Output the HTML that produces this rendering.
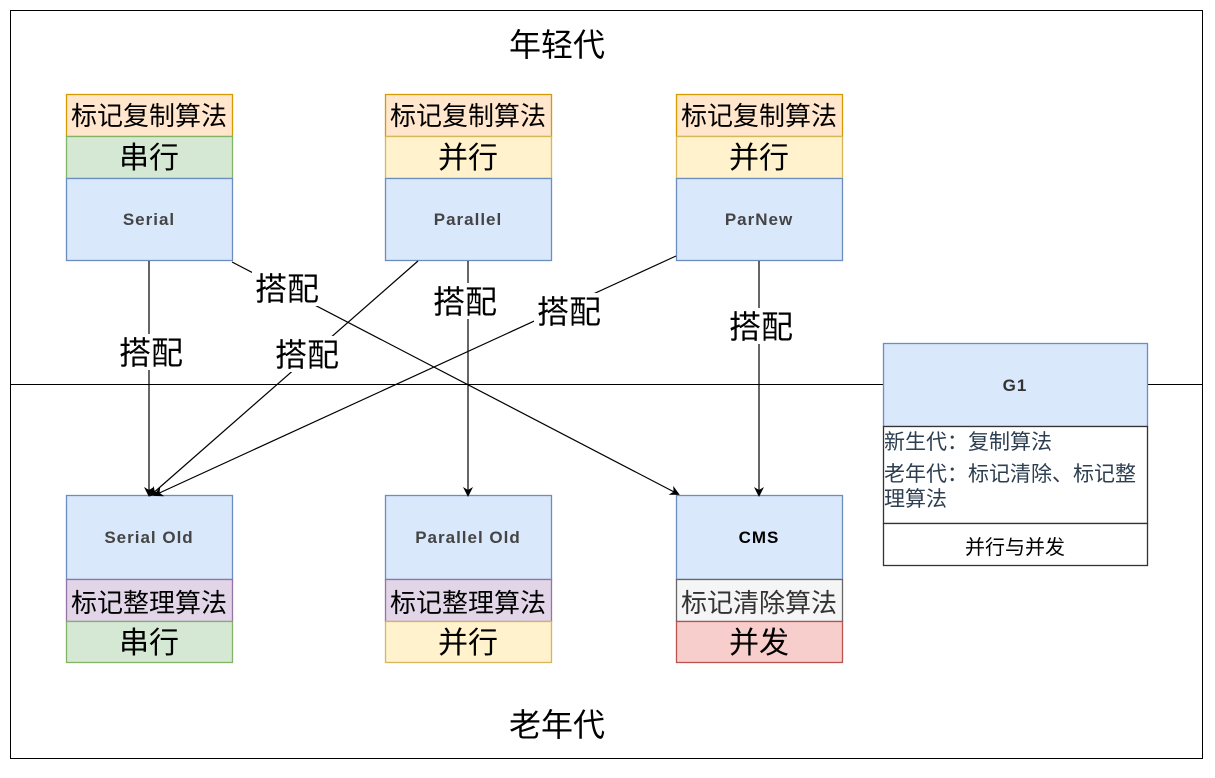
<!DOCTYPE html>
<html><head><meta charset="utf-8"><style>
html,body{margin:0;padding:0;background:#fff;}
svg text{font-family:"Liberation Sans","Noto Sans CJK SC",sans-serif;}
</style></head><body>
<svg width="1215" height="773" viewBox="0 0 1215 773" xmlns="http://www.w3.org/2000/svg">
<defs><marker id="a" markerWidth="10" markerHeight="10" refX="8" refY="5" orient="auto" markerUnits="userSpaceOnUse"><path d="M0,0 L10,5 L0,10 L3,5 z" fill="#000"/></marker></defs>
<rect x="10.5" y="10.5" width="1192" height="748" fill="#fff" stroke="#000"/>
<line x1="10" y1="384.5" x2="1202" y2="384.5" stroke="#000"/>
<text x="557" y="56" font-size="32" text-anchor="middle">年轻代</text>
<text x="557" y="736" font-size="32" text-anchor="middle">老年代</text>

<g stroke-width="1.3">
<rect x="66.5" y="94.5" width="166" height="42" fill="#ffe6cc" stroke="#d79b00"/>
<rect x="66.5" y="136.5" width="166" height="42" fill="#d5e8d4" stroke="#82b366"/>
<rect x="66.5" y="178.5" width="166" height="82" fill="#dae8fc" stroke="#6c8ebf"/>
<rect x="385.5" y="94.5" width="166" height="42" fill="#ffe6cc" stroke="#d79b00"/>
<rect x="385.5" y="136.5" width="166" height="42" fill="#fff2cc" stroke="#d6b656"/>
<rect x="385.5" y="178.5" width="166" height="82" fill="#dae8fc" stroke="#6c8ebf"/>
<rect x="676.5" y="94.5" width="166" height="42" fill="#ffe6cc" stroke="#d79b00"/>
<rect x="676.5" y="136.5" width="166" height="42" fill="#fff2cc" stroke="#d6b656"/>
<rect x="676.5" y="178.5" width="166" height="82" fill="#dae8fc" stroke="#6c8ebf"/>
<rect x="66.5" y="495.5" width="166" height="84" fill="#dae8fc" stroke="#6c8ebf"/>
<rect x="66.5" y="579.5" width="166" height="42" fill="#e1d5e7" stroke="#9673a6"/>
<rect x="66.5" y="621.5" width="166" height="41" fill="#d5e8d4" stroke="#82b366"/>
<rect x="385.5" y="495.5" width="166" height="84" fill="#dae8fc" stroke="#6c8ebf"/>
<rect x="385.5" y="579.5" width="166" height="42" fill="#e1d5e7" stroke="#9673a6"/>
<rect x="385.5" y="621.5" width="166" height="41" fill="#fff2cc" stroke="#d6b656"/>
<rect x="676.5" y="495.5" width="166" height="84" fill="#dae8fc" stroke="#6c8ebf"/>
<rect x="676.5" y="579.5" width="166" height="42" fill="#f5f5f5" stroke="#666"/>
<rect x="676.5" y="621.5" width="166" height="41" fill="#f8cecc" stroke="#b85450"/>
<rect x="883.5" y="343.5" width="264" height="83" fill="#dae8fc" stroke="#6c8ebf"/>
<rect x="883.5" y="426.5" width="264" height="97" fill="#fff" stroke="#333"/>
<rect x="883.5" y="523.5" width="264" height="42" fill="#fff" stroke="#333"/>
</g>

<g font-size="26" text-anchor="middle" fill="#000">
<text x="149" y="125">标记复制算法</text>
<text x="468" y="125">标记复制算法</text>
<text x="759" y="125">标记复制算法</text>
<text x="149" y="612">标记整理算法</text>
<text x="468" y="612">标记整理算法</text>
<text x="759" y="612" fill="#333">标记清除算法</text>
</g>
<g font-size="30" text-anchor="middle" fill="#000">
<text x="149" y="168">串行</text>
<text x="468" y="168">并行</text>
<text x="759" y="168">并行</text>
<text x="149" y="653">串行</text>
<text x="468" y="653">并行</text>
<text x="759" y="653">并发</text>
</g>
<g font-size="17" font-weight="bold" text-anchor="middle" fill="#444" letter-spacing="1">
<text x="149" y="225">Serial</text>
<text x="468" y="225">Parallel</text>
<text x="759" y="225">ParNew</text>
<text x="149" y="543">Serial Old</text>
<text x="468" y="543">Parallel Old</text>
<text x="759" y="543" fill="#000">CMS</text>
<text x="1015" y="391" fill="#333">G1</text>
</g>
<g font-size="21" fill="#2c3e50">
<text x="884" y="449">新生代：复制算法</text>
<text x="884" y="481">老年代：标记清除、标记整</text>
<text x="884" y="506">理算法</text>
</g>
<text x="1015" y="554" font-size="20" text-anchor="middle">并行与并发</text>

<g stroke="#000" stroke-width="1.2" fill="none" marker-end="url(#a)">
<line x1="149" y1="261" x2="149" y2="495"/>
<line x1="232" y1="262" x2="678" y2="494"/>
<line x1="418" y1="261" x2="151" y2="495"/>
<line x1="468" y1="261" x2="468" y2="495"/>
<line x1="676" y1="256" x2="155" y2="495"/>
<line x1="759" y1="261" x2="759" y2="495"/>
</g>
<g font-size="32" text-anchor="middle" fill="#000">
<rect x="116" y="334" width="70" height="36" fill="#fff"/><text x="151" y="364">搭配</text>
<rect x="252" y="270" width="70" height="36" fill="#fff"/><text x="287" y="300">搭配</text>
<rect x="272" y="336" width="70" height="36" fill="#fff"/><text x="307" y="366">搭配</text>
<rect x="430" y="283" width="70" height="36" fill="#fff"/><text x="465" y="313">搭配</text>
<rect x="534" y="293" width="70" height="36" fill="#fff"/><text x="569" y="323">搭配</text>
<rect x="726" y="308" width="70" height="36" fill="#fff"/><text x="761" y="338">搭配</text>
</g>
</svg>
</body></html>
